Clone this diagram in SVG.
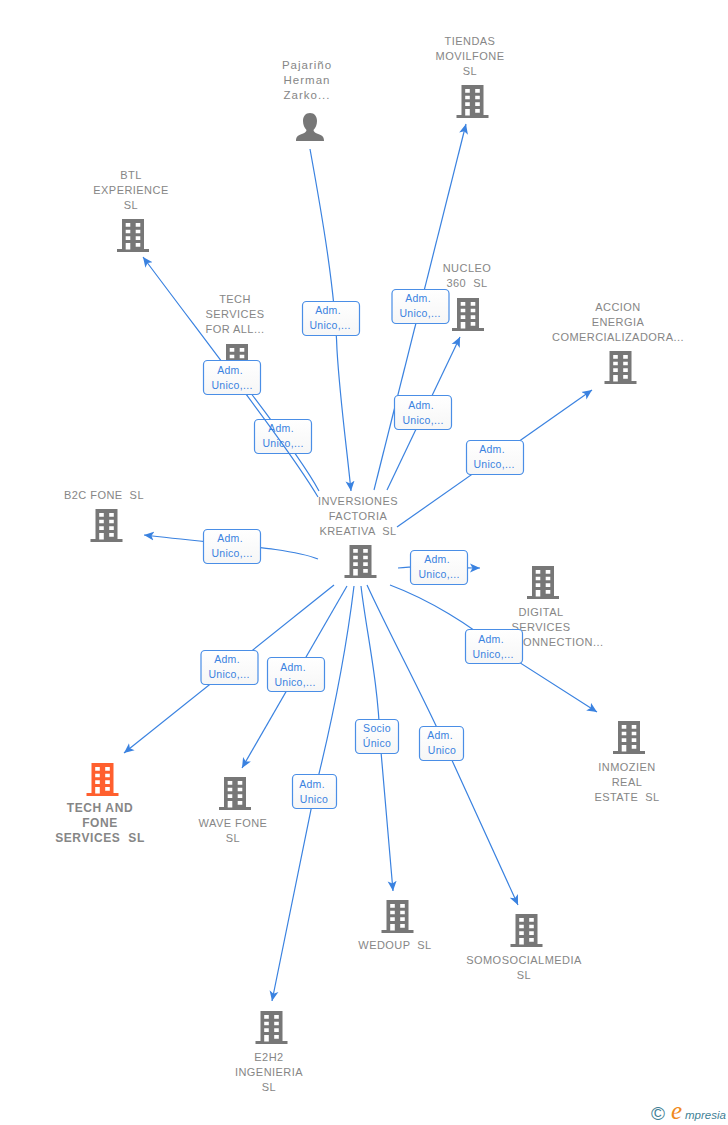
<svg xmlns="http://www.w3.org/2000/svg" width="728" height="1125" viewBox="0 0 728 1125">
<style>
.n{font-family:"Liberation Sans",Arial,sans-serif;font-size:11px;fill:#868686;text-anchor:middle;letter-spacing:.45px;white-space:pre}
.s{letter-spacing:1px;font-size:11.500px}
.b{font-weight:bold;font-size:12px;letter-spacing:.6px}
.c{fill:none;stroke:#3a82e0;stroke-width:1.2;marker-end:url(#a)}
.l rect{fill:url(#g);stroke:#4a8ee6;stroke-width:1.2}
.l text{font-family:"Liberation Sans",Arial,sans-serif;font-size:10.5px;fill:#3a82e0;text-anchor:middle;letter-spacing:.3px}
</style>
<defs>
<linearGradient id="g" x1="0" y1="0" x2="0" y2="1"><stop offset="0" stop-color="#fff"/><stop offset="1" stop-color="#f6f6f6"/></linearGradient>
<marker id="a" markerUnits="userSpaceOnUse" markerWidth="12" markerHeight="10" refX="10" refY="5" orient="auto"><path d="M0,0.5 L10,5 L0,9.5 L2.5,5Z" fill="#3a82e0"/></marker>
<symbol id="bld" viewBox="-16 0 32 34" width="32" height="34" overflow="visible">
<path fill-rule="evenodd" d="M-11,0H11V30H16V33H-16V30H-11Z M-7.3,4V7.7H-2.7V4Z M2.7,4V7.7H7.3V4Z M-7.3,10.7V14.3H-2.7V10.7Z M2.7,10.7V14.3H7.3V10.7Z M-7.3,17.3V21H-2.7V17.3Z M2.7,17.3V21H7.3V17.3Z M-7.3,24V30.5H-2.7V24Z M2.7,24V27.7H7.3V24Z"/>
</symbol>
</defs>
<rect width="728" height="1125" fill="#fff"/>
<g id="nodes">
<g id="n-main" fill="#777"><use href="#bld" x="344.500" y="545"/><text class="n" x="358" y="505">INVERSIONES</text><text class="n" x="358" y="520">FACTORIA</text><text class="n" x="358" y="535">KREATIVA  SL</text></g>
<g id="n-pajarino" fill="#777"><path d="M310,113c4.500,0 7,3.500 7,8c0,4 -1.500,7 -3.500,9c0,2 2,3 6,4.500c3,1 4.500,2.500 4.500,6.500h-28c0,-4 1.500,-5.500 4.500,-6.500c4,-1.500 6,-2.500 6,-4.500c-2,-2 -3.500,-5 -3.500,-9c0,-4.500 2.500,-8 7,-8Z"/><text class="n s" x="307" y="69">Pajariño</text><text class="n s" x="307" y="84">Herman</text><text class="n s" x="307" y="99">Zarko...</text></g>
<g id="n-tiendas" fill="#777"><use href="#bld" x="456.500" y="85"/><text class="n" x="470" y="45">TIENDAS</text><text class="n" x="470" y="60">MOVILFONE</text><text class="n" x="470" y="75">SL</text></g>
<g id="n-btl" fill="#777"><use href="#bld" x="117" y="219"/><text class="n" x="131" y="179">BTL</text><text class="n" x="131" y="194">EXPERIENCE</text><text class="n" x="131" y="209">SL</text></g>
<g id="n-nucleo" fill="#777"><use href="#bld" x="452" y="298"/><text class="n" x="467" y="272">NUCLEO</text><text class="n" x="467" y="287">360  SL</text></g>
<g id="n-accion" fill="#777"><use href="#bld" x="604.500" y="351"/><text class="n" x="618" y="311">ACCION</text><text class="n" x="618" y="326">ENERGIA</text><text class="n" x="618" y="341">COMERCIALIZADORA...</text></g>
<g id="n-techserv" fill="#777"><use href="#bld" x="221" y="344"/><text class="n" x="235" y="303">TECH</text><text class="n" x="235" y="318">SERVICES</text><text class="n" x="235" y="333">FOR ALL...</text></g>
<g id="n-b2c" fill="#777"><use href="#bld" x="90.500" y="509"/><text class="n" x="104" y="499">B2C FONE  SL</text></g>
<g id="n-digital" fill="#777"><use href="#bld" x="527" y="566"/><text class="n" x="541" y="616">DIGITAL</text><text class="n" x="541" y="631">SERVICES</text><text class="n" x="559" y="646">CONNECTION...</text></g>
<g id="n-inmozien" fill="#777"><use href="#bld" x="613" y="721"/><text class="n" x="627" y="771">INMOZIEN</text><text class="n" x="627" y="786">REAL</text><text class="n" x="627" y="801">ESTATE  SL</text></g>
<g id="n-techfone" fill="#ff5f2e"><use href="#bld" x="86.500" y="763"/><text class="n b" x="100" y="812">TECH AND</text><text class="n b" x="100" y="827">FONE</text><text class="n b" x="100" y="842">SERVICES  SL</text></g>
<g id="n-wave" fill="#777"><use href="#bld" x="219" y="777"/><text class="n" x="233" y="827">WAVE FONE</text><text class="n" x="233" y="842">SL</text></g>
<g id="n-wedoup" fill="#777"><use href="#bld" x="381.500" y="900"/><text class="n" x="395" y="949">WEDOUP  SL</text></g>
<g id="n-somoso" fill="#777"><use href="#bld" x="510.500" y="914"/><text class="n" x="524" y="964">SOMOSOCIALMEDIA</text><text class="n" x="524" y="979">SL</text></g>
<g id="n-e2h2" fill="#777"><use href="#bld" x="255.500" y="1011"/><text class="n" x="269" y="1061">E2H2</text><text class="n" x="269" y="1076">INGENIERIA</text><text class="n" x="269" y="1091">SL</text></g>
</g>
<g id="connectors">
<path class="c" d="M319,491 C305,465 275,425 250,392 L246,385"/>
<g class="l"><rect x="254.500" y="419.500" width="57" height="34" rx="4"/><text x="281" y="432">Adm.</text><text x="283" y="447">Unico,...</text></g>
<path class="c" d="M318,497 C290,450 220,360 143,257"/>
<g class="l"><rect x="203.500" y="360.500" width="57" height="34" rx="4"/><text x="230" y="374">Adm.</text><text x="232" y="389">Unico,...</text></g>
<path class="c" d="M310,149 C322,215 335,290 337,350 C340,400 347,450 351,491"/>
<g class="l"><rect x="302.500" y="301.500" width="57" height="34" rx="4"/><text x="328" y="314">Adm.</text><text x="330" y="329">Unico,...</text></g>
<path class="c" d="M374,490 L466,124"/>
<g class="l"><rect x="392" y="289.500" width="57" height="34" rx="4"/><text x="418" y="302">Adm.</text><text x="420" y="317">Unico,...</text></g>
<path class="c" d="M387,490 L460,337"/>
<g class="l"><rect x="394.500" y="395.500" width="57" height="34" rx="4"/><text x="421" y="409">Adm.</text><text x="423" y="424">Unico,...</text></g>
<path class="c" d="M397,527 L592,390"/>
<g class="l"><rect x="466.500" y="440.500" width="57" height="34" rx="4"/><text x="492" y="453">Adm.</text><text x="494" y="468">Unico,...</text></g>
<path class="c" d="M318,559 C290,548 230,545 144,535"/>
<g class="l"><rect x="203.500" y="529.500" width="57" height="34" rx="4"/><text x="230" y="542">Adm.</text><text x="232" y="557">Unico,...</text></g>
<path class="c" d="M398,568 C420,565 450,568 480,568"/>
<g class="l"><rect x="410.500" y="550.500" width="57" height="34" rx="4"/><text x="437" y="563">Adm.</text><text x="439" y="578">Unico,...</text></g>
<path class="c" d="M390,585 C430,600 470,625 500,650 L597,712"/>
<g class="l"><rect x="465.500" y="629.500" width="57" height="34" rx="4"/><text x="491" y="643">Adm.</text><text x="493" y="658">Unico,...</text></g>
<path class="c" d="M367,585 C390,635 420,690 445,745 L518,905"/>
<g class="l"><rect x="419.500" y="726.500" width="44" height="34" rx="4"/><text x="440" y="739">Adm.</text><text x="442" y="754">Unico</text></g>
<path class="c" d="M361,586 C366,630 378,680 380,740 L393,891"/>
<g class="l"><rect x="355.500" y="719.500" width="43" height="34" rx="4"/><text x="377" y="732">Socio</text><text x="377" y="747">Único</text></g>
<path class="c" d="M354,586 C345,660 330,730 315,790 L272,1001"/>
<g class="l"><rect x="292.500" y="774.500" width="44" height="34" rx="4"/><text x="312" y="788">Adm.</text><text x="314" y="803">Unico</text></g>
<path class="c" d="M347,586 L242,768"/>
<g class="l"><rect x="267.500" y="657.500" width="57" height="34" rx="4"/><text x="293" y="671">Adm.</text><text x="295" y="686">Unico,...</text></g>
<path class="c" d="M334,585 L124,753"/>
<g class="l"><rect x="201" y="650.500" width="57" height="34" rx="4"/><text x="227" y="663">Adm.</text><text x="229" y="678">Unico,...</text></g>
</g>
<g id="logo">
<text x="658" y="1120" font-family="Liberation Sans,sans-serif" font-size="19" fill="#3f7f96" text-anchor="middle">©</text>
<text x="671" y="1119" font-family="Liberation Serif,serif" font-style="italic" font-size="25" fill="#f08a1d">e</text>
<text x="685" y="1119" font-family="Liberation Sans,sans-serif" font-style="italic" font-size="11.500" fill="#3f7f96">mpresia</text>
</g>
</svg>
